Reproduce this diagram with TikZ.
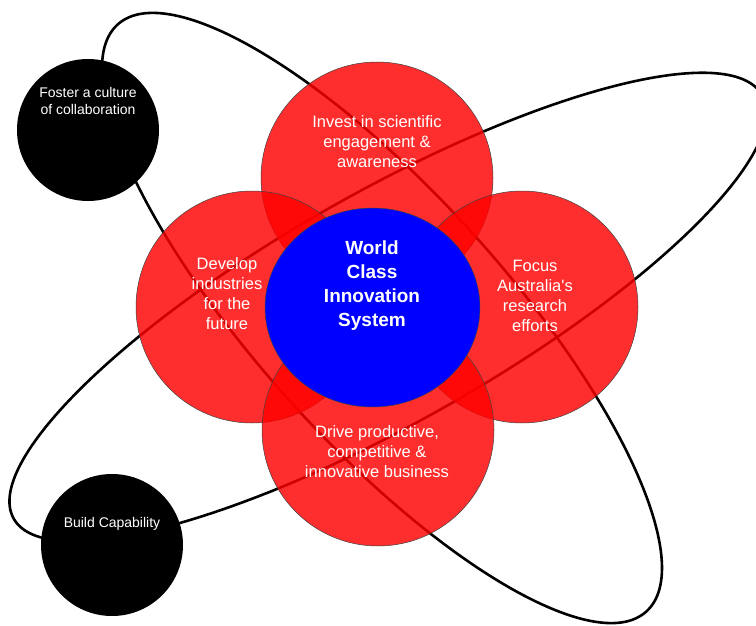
\documentclass[tikz,border=0pt]{standalone}
\usepackage{fontspec}
\setmainfont{Liberation Sans}
\usetikzlibrary{shapes.geometric}
\tikzset{
	orbit/.style={draw=black, line width=2.6pt},
	petal/.style={circle, draw=black!75, line width=0.5pt, fill=red, fill opacity=0.82,
			minimum size=232pt, inner sep=0pt},
	petaltext/.style={text=white, align=center, font=\fontsize{16.5}{20}\selectfont},
	goal/.style={circle, fill=black, minimum size=142pt, inner sep=0pt},
	goaltext/.style={text=white, align=center, font=\fontsize{14}{17}\selectfont},
	hub/.style={ellipse, draw=black!75, line width=0.5pt, fill=blue,
			minimum width=215pt, minimum height=199pt, inner sep=0pt},
	hubtext/.style={text=white, align=center, font=\bfseries\fontsize{19}{24}\selectfont}
}

\begin{document}
\begin{tikzpicture}[x=1pt, y=-1pt]
			\useasboundingbox (0,0) rectangle (756,626);

			\draw[orbit, rotate around={-48:(382,318)}] (382,318) ellipse [x radius=395pt, y radius=124pt];
			\draw[orbit, rotate around={29.5:(388,307)}] (388,307) ellipse [x radius=430pt, y radius=115pt];

			\node[goal] (foster) at (88,130) {};
			\node[goal] (build) at (112,545) {};

			\foreach \n/\x/\y in {top/377/178, left/252/307, right/522/307, bottom/378/430} {
				\node[petal] (\n) at (\x,\y) {};
			}

			\node[hub] (hub) at (372.5,307.5) {};

			\node[hubtext] (world) at (372,286) {World\\Class\\Innovation\\System};
			\node[petaltext] (invest) at (377,142) {Invest in scientific\\engagement \&\\awareness};
			\node[petaltext] (develop) at (227,294) {Develop\\industries\\for the\\future};
			\node[petaltext] (focus) at (535,296) {Focus\\Australia\textquotesingle s\\research\\efforts};
			\node[petaltext] (drive) at (377,452) {Drive productive,\\competitive \&\\innovative business};
			\node[goaltext] (culture) at (88,101) {Foster a culture\\of collaboration};
			\node[goaltext] (capability) at (112,524) {Build Capability};
		\end{tikzpicture}
\end{document}
